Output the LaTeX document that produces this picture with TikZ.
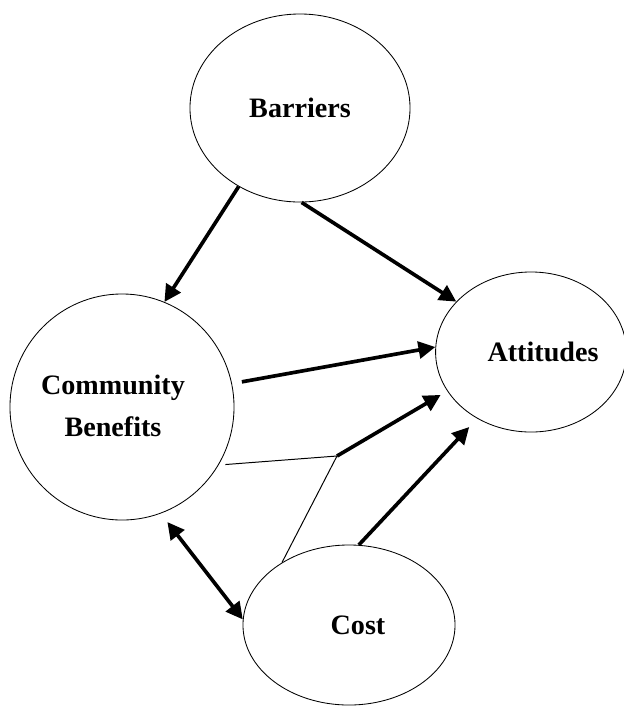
\documentclass[tikz,border=0pt]{standalone}
\usepackage{fontspec}
\setmainfont{Liberation Serif}
\usepackage{tikz}
\usetikzlibrary{shapes.geometric}
\usetikzlibrary{arrows.meta}

\begin{document}
\begin{tikzpicture}[x=0.025cm, y=-0.025cm,
            factor/.style={draw, ellipse, black, line width=0.6pt, inner sep=0pt, font=\bfseries\fontsize{20}{30}\selectfont},
            path/.style={black, line width=2.6pt, -{Triangle[length=12pt, width=12pt]}},
            link/.style={black, line width=0.7pt}]
            \useasboundingbox (0,0) rectangle (624,706);
            \node[factor, minimum width=5.5cm, minimum height=4.7cm] (Barriers) at (300,108) {Barriers};
            \node[factor, minimum width=5.6cm, minimum height=5.65cm] (Benefits) at (122,407) {\hspace{-0.45cm}\begin{tabular}{@{}c@{}}Community\\Benefits\end{tabular}};
            \node[factor, minimum width=4.65cm, minimum height=4.0cm] (Attitudes) at (531,352) {\hspace{0.6cm}Attitudes};
            \node[factor, minimum width=5.3cm, minimum height=4.0cm] (Cost) at (349,625) {\hspace{0.45cm}Cost};
            \coordinate (Meet) at (337,456);
            \draw[path](Barriers.232) -- (Benefits.68);
            \draw[path](Barriers.271) -- (Attitudes.146);
            \draw[path, shorten <=0.25cm](Benefits.12) -- (Attitudes.177);
            \draw[link, shorten <=0.17cm](Benefits.-31) -- (Meet);
            \draw[link](Cost.137) -- (Meet);
            \draw[path, shorten >=0.19cm](Meet) -- (Attitudes.205);
            \draw[path, shorten >=0.29cm](Cost.83) -- (Attitudes.231);
            \draw[path, {Triangle[length=12pt, width=12pt]}-{Triangle[length=12pt, width=12pt]}, shorten <=0.27cm](Benefits.-70) -- (Cost.177);
            \end{tikzpicture}
\end{document}
